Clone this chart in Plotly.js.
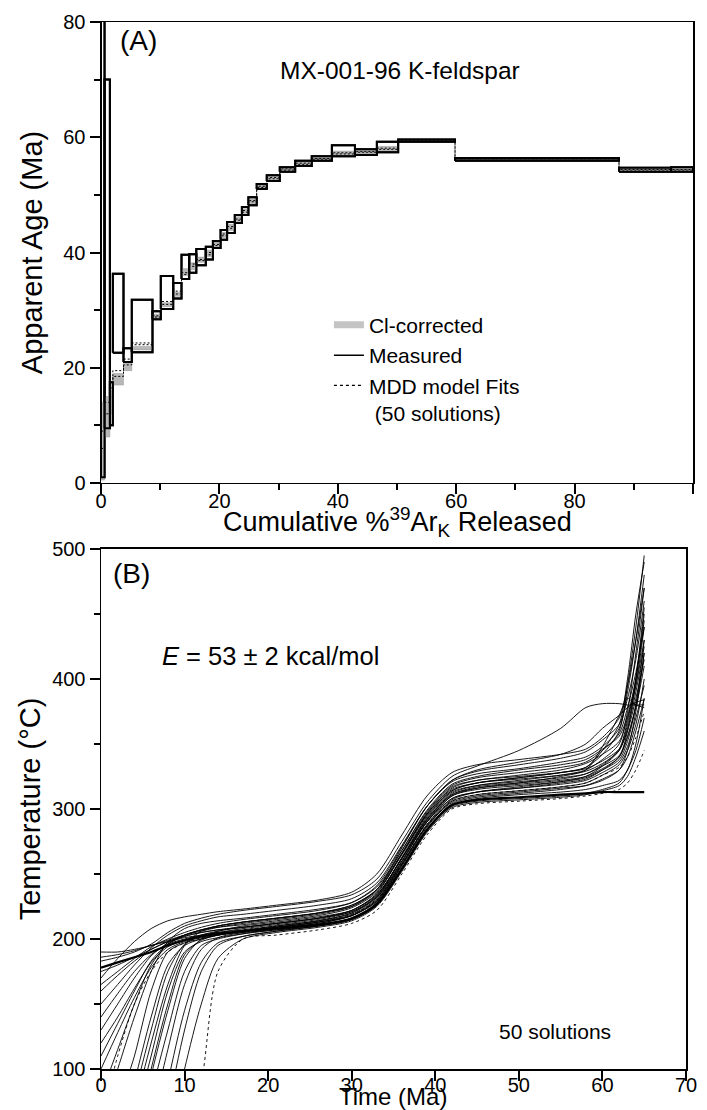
<!DOCTYPE html>
<html>
<head>
<meta charset="utf-8">
<script src="https://cdn.plot.ly/plotly-3.0.1.min.js"></script>
<style>html,body{margin:0;padding:0;background:#fff;}#chart{width:707px;height:1110px;}</style>
</head>
<body>
<div id="chart"></div>
<script>
// ---------- Panel A: age spectrum ----------
const stepPct = [0, 0.6, 1.5, 2.0, 3.8, 5.2, 8.7, 10.1, 12.2, 13.6, 14.9, 16.1, 17.7, 18.9, 20.2, 21.3, 22.6, 23.8, 24.9, 26.3, 28.0, 30.2, 32.8, 35.6, 39.0, 42.9, 46.6, 50.2, 59.8, 87.5, 96.3, 100];
const measLo = [1, 9.5, 10, 22.6, 21.0, 22.7, 28.4, 30.2, 32.0, 35.4, 36.5, 37.8, 38.8, 40.8, 42.2, 43.4, 45.1, 46.5, 48.2, 51.0, 52.4, 54.0, 55.0, 55.9, 56.7, 56.9, 57.4, 59.2, 55.9, 54.0, 54.0];
const measHi = [85, 70, 17.5, 36.3, 23.4, 31.8, 29.8, 35.9, 34.7, 39.6, 39.7, 40.6, 41.0, 42.0, 43.9, 45.3, 46.5, 47.9, 49.6, 51.9, 53.4, 54.8, 55.9, 56.7, 58.6, 57.9, 59.2, 59.6, 56.4, 54.7, 54.8];
const clLo = [0.5, 8, 12, 17.0, 19.5, 23.1, 28.6, 30.6, 32.4, 36.0, 37.0, 38.3, 39.3, 41.0, 42.6, 43.8, 45.4, 46.8, 48.5, 51.2, 52.6, 54.2, 55.2, 56.1, 57.0, 57.1, 57.7, 59.3, 56.0, 54.1, 54.2];
const clHi = [14, 15, 16, 19.0, 20.8, 23.7, 29.3, 31.3, 33.1, 37.2, 38.2, 39.2, 40.4, 41.8, 43.5, 44.9, 46.2, 47.6, 49.3, 51.7, 53.2, 54.6, 55.7, 56.5, 57.6, 57.7, 58.4, 59.5, 56.3, 54.6, 54.6];
const modelA = [6, 12, 15, 19.5, 21.5, 24.3, 29.0, 31.5, 33.3, 36.5, 38.0, 38.8, 40.0, 41.4, 43.2, 44.5, 45.8, 47.3, 49.0, 51.5, 53.0, 54.5, 55.5, 56.3, 57.3, 57.5, 58.1, 59.4, 56.2, 54.4, 54.4];
const modelB = [9, 14, 16.5, 18.5, 20.5, 24.0, 28.8, 31.0, 32.8, 36.2, 37.6, 38.6, 39.6, 41.2, 42.9, 44.2, 45.6, 47.0, 48.8, 51.3, 52.8, 54.3, 55.3, 56.2, 57.1, 57.4, 57.9, 59.3, 56.1, 54.3, 54.3];
const legendNames = ["Cl-corrected", "Measured", "MDD model Fits<br> (50 solutions)"];

// ---------- Panel B: thermal histories ----------
const timeMa = [0, 2, 4, 6, 8, 10, 12, 14, 17, 21, 26, 30, 33, 36, 39, 42, 45, 50, 55, 58, 60, 62, 63, 64, 65];
const p01 = [186,188,191,195,198,201,203,205,207,210,214,220,232,262,292,312,318,322,326,330,338,350,375,420,470];
const p02 = [160,172,183,192,198,202,205,207,209,212,216,222,235,266,296,315,320,324,328,332,342,360,395,440,495];
const p03 = [140,158,175,188,196,200,203,205,208,211,215,221,233,262,290,308,313,316,320,323,330,340,360,400,455];
const p04 = [120,140,162,182,194,199,202,204,206,209,212,218,230,258,287,305,310,313,316,318,322,330,345,375,420];
const p05 = [100,128,155,178,192,198,201,203,205,207,210,215,226,254,284,303,308,311,313,315,318,322,330,350,385];
const p06 = [20,70,110,160,190,197,200,203,206,209,213,219,231,260,290,310,315,318,321,324,330,338,352,380,430];
const p07 = [0,40,90,140,180,195,200,203,206,210,214,220,233,263,294,314,320,324,328,332,345,365,400,450,490];
const p08 = [-50,0,60,110,160,190,198,201,204,207,211,216,228,256,286,306,311,314,317,320,326,334,345,365,400];
const p09 = [-100,-40,20,80,130,175,195,200,204,208,212,218,230,259,290,310,316,320,325,330,348,372,385,380,378];
const p10 = [178,182,186,190,195,199,202,204,206,208,211,216,227,254,284,303,307,309,311,312,313,313,313,313,313];
const p11 = [-200,-120,-50,10,70,130,175,195,202,206,210,215,226,253,283,302,306,308,310,312,315,320,330,345,370];
const p12 = [170,185,198,208,214,217,219,221,223,226,230,236,250,280,310,328,334,338,342,346,355,370,395,430,470];
const p13 = [183,186,190,196,205,212,216,219,222,225,229,234,246,275,305,325,333,345,362,378,381,381,380,380,380];
const p14 = [150,165,180,193,203,210,214,217,219,222,226,231,243,272,302,321,327,331,336,340,348,362,390,430,480];
const p15 = [60,100,140,175,198,208,212,214,216,219,223,228,240,268,298,318,324,328,332,336,345,358,378,405,440];
const p16 = [-30,20,70,120,165,195,206,210,213,216,220,226,238,266,297,317,322,326,330,335,342,352,370,395,430];
const p17 = [-80,-20,40,95,145,185,200,206,210,213,217,222,234,262,293,313,318,321,324,327,333,341,356,378,410];
const p18 = [-250,-170,-90,-20,40,100,150,185,200,205,209,214,225,252,282,301,305,307,309,311,314,318,325,340,360];
const p19 = [-300,-220,-140,-60,0,50,90,175,200,203,207,212,222,250,280,300,304,306,308,310,312,315,320,330,345];
const p20 = [60,110,150,175,190,197,201,204,207,210,214,219,230,258,288,306,311,314,317,320,326,332,340,355,375];
const p21 = [175,180,186,192,198,203,207,210,213,216,220,226,238,268,299,319,325,330,334,338,346,356,372,400,445];
const p22 = [130,150,170,187,197,203,207,209,211,214,218,224,236,265,295,314,320,323,326,329,335,345,362,390,425];
const p23 = [110,135,160,183,196,202,205,207,209,212,216,222,234,262,292,311,317,320,323,327,334,346,368,400,450];
const p24 = [-120,-60,0,60,115,165,192,201,205,209,213,218,229,257,287,307,313,317,321,325,333,345,365,395,440];
const p25 = [190,190,192,195,199,203,206,209,212,215,219,225,238,270,302,322,330,336,342,350,362,372,378,382,384];
const p26 = [-20,30,80,130,175,196,203,206,209,212,216,221,232,260,291,311,316,319,322,325,331,340,355,380,420];
const p27 = [80,115,150,180,196,203,207,210,213,216,220,225,237,265,296,316,322,325,328,331,337,346,360,385,415];
const p28 = [-60,-10,45,100,150,188,199,203,206,209,213,218,229,257,288,308,313,316,319,322,328,336,348,370,395];
const p29 = [165,175,185,194,200,205,209,212,215,218,222,228,241,271,302,322,329,334,339,344,353,365,385,415,460];
const p30 = [-180,-100,-30,30,90,145,182,197,202,206,210,215,226,254,284,304,309,312,315,318,323,330,340,360,385];
const pathsB = [p01,p02,p03,p04,p05,p06,p07,p08,p09,p10,p11,p12,p13,p14,p15,p16,p17,p18,p19,p20,p21,p22,p23,p24,p25,p26,p27,p28,p29,p30];
const thickPath = 9;          // index of the bold solution
const dottedPaths = [18, 19]; // indices of dotted solutions

function boxes(lo, hi) {
  const x = [], y = [];
  for (let i = 0; i < lo.length; i++) {
    const s = stepPct[i], e = stepPct[i + 1];
    x.push(s, e, e, s, s, null);
    y.push(lo[i], lo[i], hi[i], hi[i], lo[i], null);
  }
  return {x, y};
}
const mb = boxes(measLo, measHi);
const cb = boxes(clLo, clHi);

const traces = [];
traces.push({x: mb.x, y: mb.y, xaxis: 'x', yaxis: 'y', mode: 'lines', fill: 'toself', fillcolor: 'white',
  line: {color: 'black', width: 2}, showlegend: false, hoverinfo: 'skip'});
traces.push({x: cb.x, y: cb.y, xaxis: 'x', yaxis: 'y', mode: 'lines', fill: 'toself', fillcolor: '#b8b8b8',
  line: {color: '#999', width: 0.5}, showlegend: false, hoverinfo: 'skip'});
traces.push({x: mb.x, y: mb.y, xaxis: 'x', yaxis: 'y', mode: 'lines',
  line: {color: 'black', width: 2}, showlegend: false, hoverinfo: 'skip'});
[modelA, modelB].forEach(m => {
  traces.push({x: stepPct, y: m.concat([m[m.length - 1]]), xaxis: 'x', yaxis: 'y', mode: 'lines',
    line: {color: 'black', width: 1, dash: '2px,2px', shape: 'hv'}, showlegend: false, hoverinfo: 'skip'});
});
// legend entries
traces.push({x: [null], y: [null], xaxis: 'x', yaxis: 'y', mode: 'lines', name: legendNames[0], line: {color: '#c4c4c4', width: 7}});
traces.push({x: [null], y: [null], xaxis: 'x', yaxis: 'y', mode: 'lines', name: legendNames[1], line: {color: 'black', width: 1.5}});
traces.push({x: [null], y: [null], xaxis: 'x', yaxis: 'y', mode: 'lines', name: legendNames[2], line: {color: 'black', width: 1.2, dash: '3px,3px'}});

pathsB.forEach((p, i) => {
  traces.push({x: timeMa, y: p, xaxis: 'x2', yaxis: 'y2', mode: 'lines', showlegend: false, hoverinfo: 'skip',
    line: {color: 'black', width: i === thickPath ? 2.2 : 0.9, shape: 'spline', smoothing: 0.8,
      dash: dottedPaths.includes(i) ? 'dot' : 'solid'}});
});

function ax(extra) {
  return Object.assign({showline: true, linecolor: 'black', linewidth: 1.5, mirror: true, showgrid: false, zeroline: false,
    ticks: 'outside', ticklen: 10, tickwidth: 2, tickcolor: 'black', tickfont: {size: 20}}, extra);
}
function minorTicks(d) {
  return {dtick: d, ticks: 'outside', ticklen: 6, tickwidth: 2, tickcolor: 'black', showgrid: false};
}

const layout = {
  width: 707, height: 1110,
  margin: {l: 101, r: 14, t: 22, b: 41},
  paper_bgcolor: 'white', plot_bgcolor: 'white',
  font: {family: 'Liberation Sans, Arial, sans-serif', color: 'black', size: 18},
  showlegend: true,
  legend: {x: 0.385, y: 0.73, xanchor: 'left', yanchor: 'top', valign: 'top', bgcolor: 'rgba(0,0,0,0)',
    font: {size: 21}, tracegroupgap: 0},
  xaxis: ax({domain: [0, 1], range: [0, 100], anchor: 'y', tick0: 0, dtick: 20, minor: minorTicks(10), ticklabelstandoff: -10}),
  yaxis: ax({domain: [0.5597, 1], range: [0, 80], anchor: 'x', tick0: 0, dtick: 20, minor: minorTicks(10),
    title: {text: 'Apparent Age (Ma)', font: {size: 29}, standoff: 12}}),
  xaxis2: ax({domain: [0, 0.9882], range: [0, 70], anchor: 'y2', tick0: 0, dtick: 10, ticklabelstandoff: -13}),
  yaxis2: ax({domain: [0, 0.4967], range: [100, 500], anchor: 'x2', tick0: 100, dtick: 100, minor: minorTicks(50),
    title: {text: 'Temperature (°C)', font: {size: 29}, standoff: 3}}),
  annotations: [
    {xref: 'paper', yref: 'paper', x: 0.5, y: 0.5425, yanchor: 'top', showarrow: false,
      text: 'Cumulative %<sup>39</sup>Ar<sub>K</sub> Released', font: {size: 27}},
    {xref: 'paper', yref: 'paper', x: 0.494, y: -0.0411, yanchor: 'bottom', showarrow: false,
      text: 'Time (Ma)', font: {size: 24}},
    {xref: 'x', yref: 'y', x: 6.3, y: 76.8, text: '(A)', showarrow: false, font: {size: 28}},
    {xref: 'x', yref: 'y', x: 50.5, y: 71.6, text: 'MX-001-96 K-feldspar', showarrow: false, font: {size: 24.5}},
    {xref: 'x2', yref: 'y2', x: 3.6, y: 481, text: '(B)', showarrow: false, font: {size: 28}},
    {xref: 'x2', yref: 'y2', x: 20.3, y: 418, text: '<i>E</i> = 53 ± 2 kcal/mol', showarrow: false, font: {size: 25.5}},
    {xref: 'x2', yref: 'y2', x: 54.3, y: 129, text: '50 solutions', showarrow: false, font: {size: 21}}
  ]
};

Plotly.newPlot('chart', traces, layout, {staticPlot: true, displayModeBar: false});
</script>
</body>
</html>
